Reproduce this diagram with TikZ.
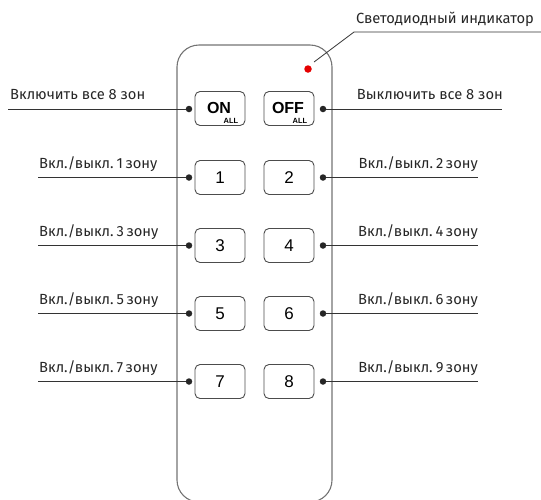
\documentclass[tikz,border=0pt]{standalone}
\usepackage{fontspec}
\setmainfont{Fira Sans}
\newfontfamily\btnfont{Liberation Sans}
\begin{document}
\begin{tikzpicture}[x=1pt,y=-1pt,
  bodyline/.style={draw=black!55, line width=1.1pt},
  btn/.style={draw=black!70, line width=0.9pt, rounded corners=5pt, minimum width=50pt, minimum height=34pt, inner sep=0pt, font=\btnfont\fontsize{17}{17}\selectfont},
  pin/.style={circle, fill=black!85, inner sep=0pt, minimum size=6.5pt},
  lead/.style={draw=black!80, line width=0.8pt},
  lbl/.style={inner sep=0pt, font=\fontsize{14.7}{15}\selectfont, text=black!85},
  led/.style={circle, fill=red!90!black, inner sep=0pt, minimum size=7.5pt}]
\useasboundingbox (0,0) rectangle (541,499);
% body
\begin{scope}
\clip (0,0) rectangle (541,499);
\draw[bodyline, rounded corners=22pt] (177,45) rectangle (332,502);
\end{scope}
% LED
\node[led] (led) at (308,69) {};
\coordinate (ledA) at (314,62);
\coordinate (ledB) at (354,32);
\coordinate (ledC) at (541,32);
\draw[lead] (ledA) -- (ledB) -- (ledC);
\node[lbl, anchor=base west] (ledlbl) at (356,23.5) {Светодиодный индикатор};
% buttons
\node[btn] (on) at (220,108.5) {};
\node[font=\btnfont\bfseries\fontsize{16}{16}\selectfont, inner sep=0pt, anchor=base] at (219,113.5) {ON};
\node[font=\btnfont\bfseries\fontsize{7.5}{7.5}\selectfont, inner sep=0pt, anchor=base] at (231,123) {ALL};
\node[btn] (off) at (289,108.5) {};
\node[font=\btnfont\bfseries\fontsize{16}{16}\selectfont, inner sep=0pt, anchor=base] at (288,113.5) {OFF};
\node[font=\btnfont\bfseries\fontsize{7.5}{7.5}\selectfont, inner sep=0pt, anchor=base] at (300,123) {ALL};
\foreach \n/\y in {1/177.5,3/245.5,5/313.5,7/381.5}{
  \node[btn] (b\n) at (220,\y) {\n};
}
\foreach \n/\y in {2/177.5,4/245.5,6/313.5,8/381.5}{
  \node[btn] (b\n) at (289,\y) {\n};
}
% ON/OFF leaders
\node[pin] (pon) at (189,109) {};
\coordinate (lon) at (8,109);
\draw[lead] (lon) -- (pon);
\node[lbl, anchor=base west] at (10,99.5) {Включить все 8 зон};
\node[pin] (poff) at (323,109) {};
\coordinate (loff) at (502,109);
\draw[lead] (poff) -- (loff);
\node[lbl, anchor=base east] at (503,99.5) {Выключить все 8 зон};
% zone leaders left
\foreach \n/\z/\y in {1/1/177.5,3/3/245.5,5/5/313.5,7/7/381.5}{
  \node[pin] (p\n) at (189,\y) {};
  \coordinate (l\n) at (38,\y);
  \draw[lead] (l\n) -- (p\n);
  \node[lbl, anchor=base west] at (39,\y-9.5) {Вкл./выкл.\hspace{3pt}\z\hspace{2.5pt}зону};
}
% zone leaders right
\foreach \n/\z/\y in {2/2/177.5,4/4/245.5,6/6/313.5,8/9/381.5}{
  \node[pin] (p\n) at (323,\y) {};
  \coordinate (l\n) at (478,\y);
  \draw[lead] (p\n) -- (l\n);
  \node[lbl, anchor=base east] at (478,\y-9.5) {Вкл./выкл.\hspace{3pt}\z\hspace{2.5pt}зону};
}
\end{tikzpicture}
\end{document}
